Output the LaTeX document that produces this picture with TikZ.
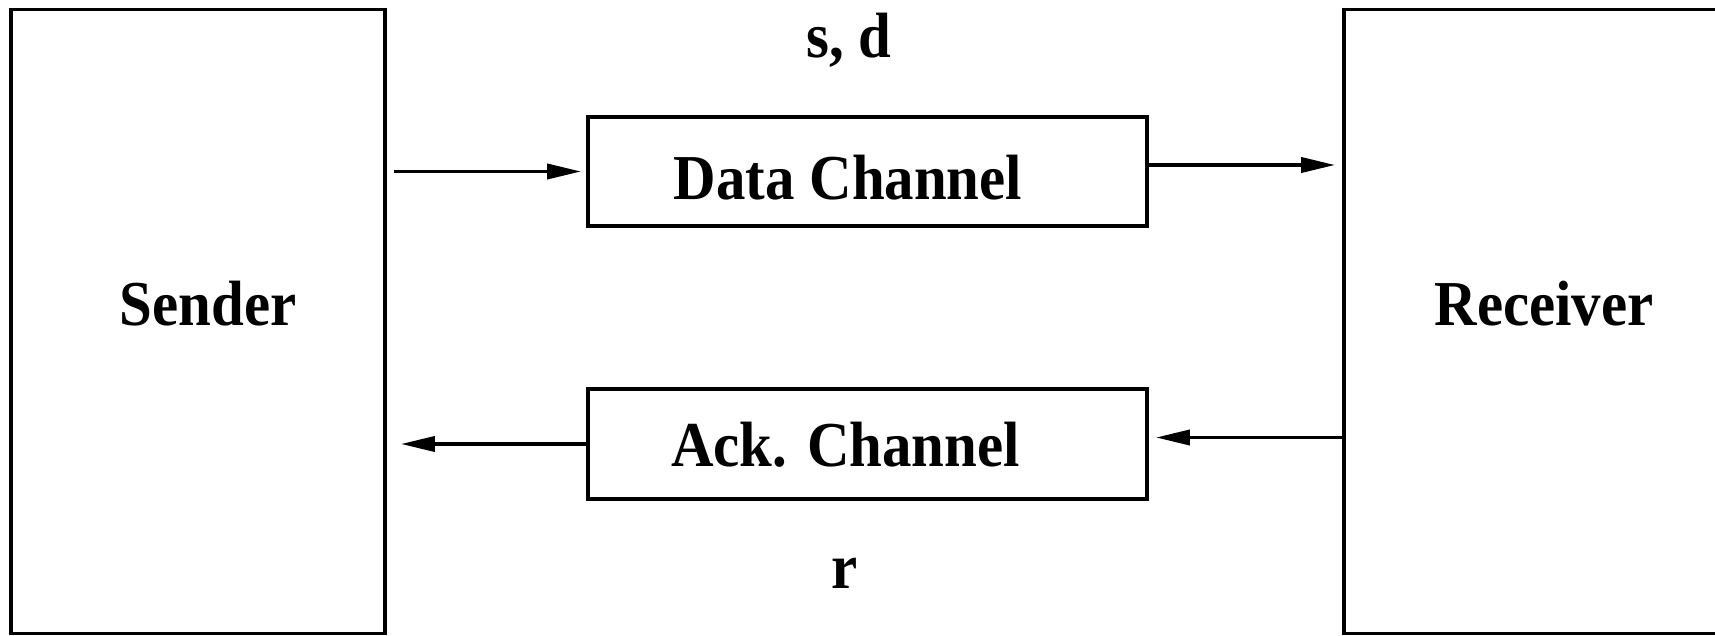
\documentclass[tikz,border=0pt]{standalone}
\usepackage{fontspec}
\setmainfont{Liberation Serif}[FakeStretch=0.92]
\usetikzlibrary{arrows.meta,calc}
\begin{document}
\begin{tikzpicture}[x=1pt,y=1pt,
  box/.style={draw=black,line width=3.8pt,rectangle,inner sep=0pt},
  lbl/.style={anchor=base,inner sep=0pt,font=\bfseries\fontsize{64}{64}\selectfont},
  arr/.style={line width=3.8pt,-{Triangle[length=34pt,width=15pt]}}]
\useasboundingbox (0,0) rectangle (1715,635);
\clip (0,0) rectangle (1715,635);
% boxes (y measured from bottom)
\node[box,minimum width=374pt,minimum height=624pt] (sender) at (198,313.5) {};
\node[box,minimum width=400pt,minimum height=624pt] (receiver) at (1544,313.5) {};
\node[box,minimum width=559pt,minimum height=109pt] (data) at (867.5,463.5) {};
\node[box,minimum width=559pt,minimum height=110pt] (ack) at (867.5,191) {};
% texts
\node[lbl] (sendertxt) at (208,309) {Sender};
\node[lbl] (receivertxt) at (1544,309) {Receiver};
\node[lbl] (datatxt) at (848,435) {Data Channel};
\node[lbl] (acktxt) at (845.5,169) {Ack. Channel};
\node[lbl] (sd) at (849,577) {s, d};
\node[lbl] (r) at (845,47) {r};
% connectors
\draw[arr] ($(sender.east |- data.west)+(7,0)$) -- ($(data.west)+(-5,0)$);
\draw[arr] ($(data.east)+(0,6.5)$) -- ($(receiver.west |- data.east)+(-7,6.5)$);
\draw[arr] (ack.west) -- ($(sender.east |- ack.west)+(14,0)$);
\draw[arr] ($(receiver.west |- ack.east)+(0,6.5)$) -- ($(ack.east)+(7,6.5)$);
\end{tikzpicture}
\end{document}
